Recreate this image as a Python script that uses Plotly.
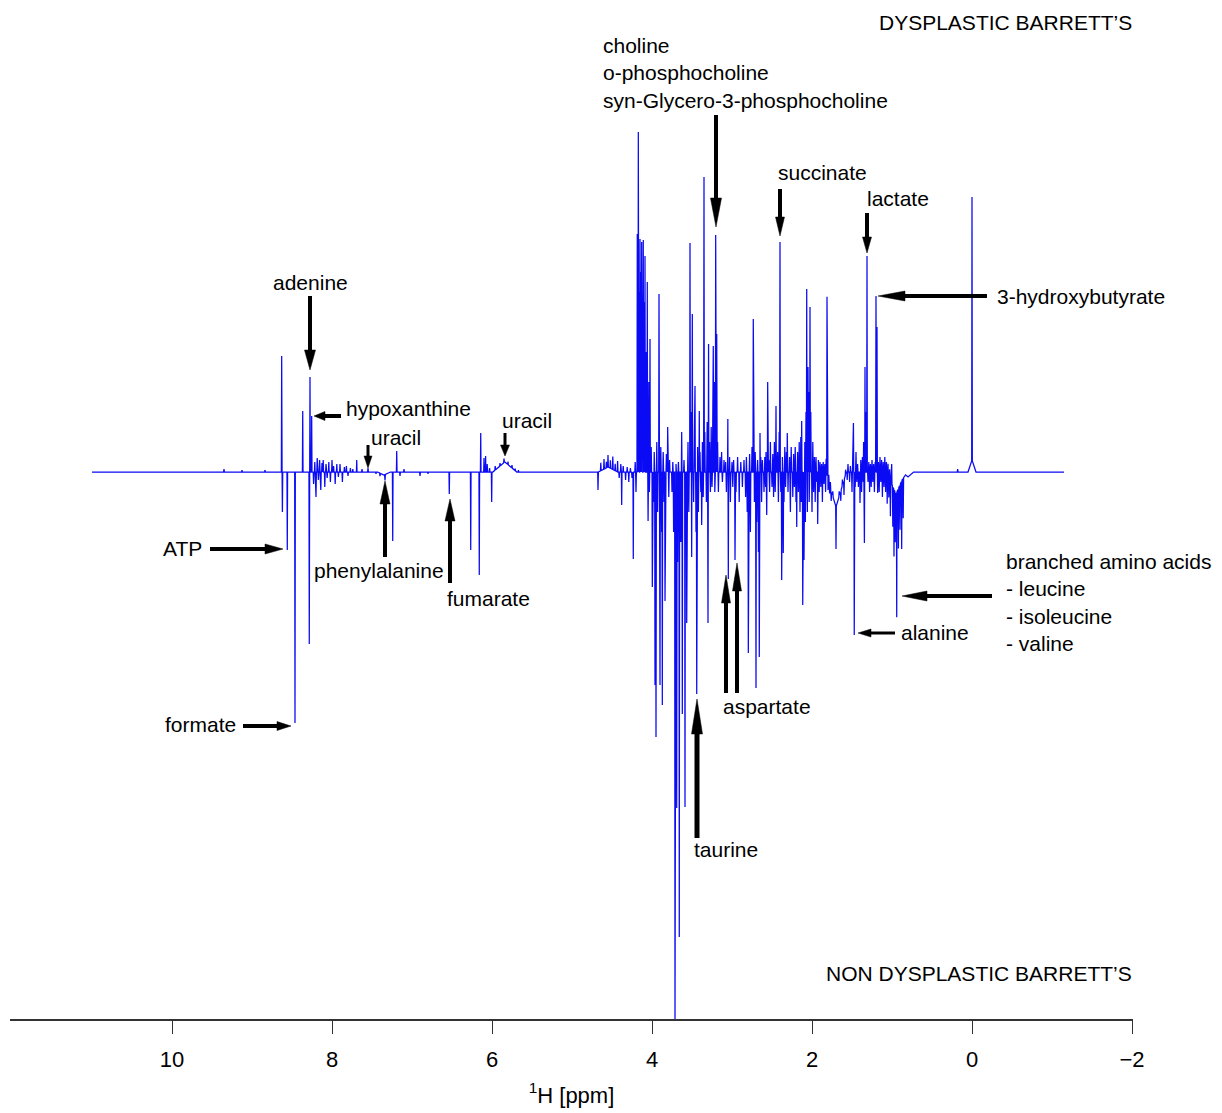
import numpy as np
import plotly.graph_objects as go

# ---------------------------------------------------------------------------
# 1H NMR difference spectrum: dysplastic (up) minus non-dysplastic (down)
# ---------------------------------------------------------------------------

# recorded chemical-shift window (ppm)
spec_start, spec_end = 11.0, -1.15

# resonances raised in dysplastic Barrett's tissue (positive lobe)
pos_ppm = [8.629, 8.366, 8.275, 8.254, 7.691, 7.191, 6.141, 6.10, 6.08,
           4.184, 4.171, 4.16, 4.15, 4.14, 4.129, 4.12, 4.109, 4.10, 4.0875,
           4.07, 4.059, 4.04, 4.025, 3.9125, 3.804, 3.629, 3.525, 3.496,
           3.4625, 3.409, 3.35, 3.293, 3.234, 3.204, 3.191, 3.052, 2.734,
           2.65, 2.554, 2.45, 2.40, 2.309, 2.129, 2.066, 2.05, 2.025, 1.8125,
           1.482, 1.3375, 1.325, 1.3125, 1.20, 1.1875, 1.004, 0.0]
pos_int = [116, 61, 95, 56, 12, 21, 39, 14, 16,
           238, 340, 180, 233, 200, 230, 150, 232, 170, 216,
           120, 190, 90, 133, 178, 45, 40, 229, 158,
           86, 61, 295, 128, 126, 237, 138, 53, 153,
           39, 90, 66, 230, 39, 51, 183, 105, 165, 180,
           49, 105, 60, 216, 176, 145, 20, 263]

# resonances raised in non-dysplastic Barrett's tissue (negative lobe)
neg_ppm = [8.62, 8.559, 8.4625, 8.284, 7.241, 6.534, 6.266, 6.159, 6.004,
           4.675, 4.379, 4.234, 4.049, 3.996, 3.9625, 3.95, 3.90, 3.871,
           3.8375, 3.7125, 3.691, 3.659, 3.621, 3.5875, 3.566, 3.504, 3.441,
           3.379, 3.300, 3.046, 2.9625, 2.796, 2.70, 2.659, 2.566, 2.379,
           2.359, 2.191, 2.116, 2.10, 1.929, 1.70, 1.472, 1.40, 1.345, 1.179,
           0.975, 0.941, 0.879]
neg_int = [-40, -78, -251, -172, -69, -22, -78, -103, -30,
           -18, -33, -87, -49, -115, -213, -265, -213, -233,
           -129, -556, -336, -465, -242, -335, -151, -85, -222,
           -53, -151, -107, -88, -181, -216, -185, -43, -108,
           -81, -55, -133, -88, -52, -42, -163, -31, -71, -21,
           -67, -125, -68]

# low-level signals and residual baseline structure
minor_ppm = [9.35, 9.125, 8.8375,
             8.23, 8.215, 8.20, 8.185, 8.17, 8.155, 8.14, 8.125, 8.11, 8.09,
             8.075, 8.06, 8.04, 8.02, 8.00, 7.98, 7.96, 7.94, 7.92, 7.90, 7.87,
             7.845, 7.82, 7.80, 7.77, 7.74,
             7.625, 7.55, 7.45, 7.40, 7.3375, 7.15, 7.10, 6.90, 6.80, 6.06,
             6.03, 5.96, 5.90, 5.85, 5.80, 5.75, 5.71, 5.67,
             4.64, 4.60, 4.57, 4.55, 4.52, 4.49, 4.46, 4.43, 4.41, 4.39, 4.36,
             4.33, 4.31, 4.29, 4.27, 4.25, 4.21, 4.20,
             4.033, 4.01, 3.98, 3.972, 3.94, 3.93, 3.89, 3.88, 3.86, 3.85, 3.82,
             3.79, 3.78, 3.75, 3.74, 3.73, 3.70, 3.68, 3.67, 3.64, 3.60, 3.578,
             3.55, 3.54, 3.515, 3.48, 3.47, 3.45, 3.43, 3.42, 3.40, 3.39, 3.37,
             3.36, 3.34, 3.32, 3.31, 3.28, 3.27, 3.26, 3.25, 3.24, 3.22, 3.215,
             3.18, 3.17, 3.15, 3.13, 3.12, 3.10, 3.08, 3.07, 3.03, 3.02, 3.00,
             2.99, 2.98, 2.95, 2.93, 2.91, 2.89, 2.87, 2.85, 2.83, 2.82, 2.81,
             2.78, 2.77, 2.75, 2.72, 2.71, 2.69, 2.68, 2.67, 2.64, 2.63, 2.62,
             2.60, 2.59, 2.58, 2.575, 2.54, 2.53, 2.52, 2.50, 2.49, 2.48, 2.47,
             2.46, 2.43, 2.42, 2.41, 2.39, 2.37, 2.35, 2.34, 2.33, 2.32, 2.30,
             2.28, 2.27, 2.26, 2.24, 2.23, 2.22, 2.21, 2.20, 2.18, 2.17, 2.16,
             2.15, 2.14, 2.135, 2.09, 2.083, 2.075, 2.058, 2.04, 2.035, 2.015,
             2.00, 1.99, 1.98, 1.97, 1.96, 1.95, 1.94, 1.92, 1.91, 1.90, 1.89,
             1.88, 1.87, 1.86, 1.85, 1.84, 1.83, 1.823, 1.80, 1.79, 1.78, 1.77,
             1.76, 1.74, 1.66, 1.64, 1.62, 1.60, 1.58, 1.56, 1.55, 1.53, 1.52,
             1.50, 1.46, 1.45, 1.44, 1.43, 1.42, 1.39, 1.38, 1.37, 1.36, 1.355,
             1.30, 1.29, 1.28, 1.27, 1.26, 1.25, 1.24, 1.23, 1.22, 1.21, 1.17,
             1.16, 1.15, 1.14, 1.13, 1.12, 1.11, 1.10, 1.09, 1.08, 1.07, 1.06,
             1.05, 1.04, 1.03, 1.02, 1.01, 0.99, 0.96, 0.92, 0.90, 0.86, 0.179]
minor_int = [3, 2, 2,
             -12, 10, -25, 14, -8, 12, -18, 9, 12, -15,
             8, -6, 10, -10, 12, 6, -12, 8, -5, 8, -10,
             5, 6, -4, 4, 3,
             3, 4, -2, -3, -6, -4, 3, -4, -2, 8,
             4, 4, 3, 4, 3, 3, 2, 2,
             8, 10, 6, 12, 8, 13, 7, 11, -6, 8, 6,
             -8, 5, -10, 4, -6, 10, -20,
             -20, 25, -30, 20, 30, -40, 25, -60, 20, -30, 18,
             -25, 12, -20, 10, -60, 8, -90, 10, -70, 12, -60,
             30, -40, 60, -30, 40, -60, 25, -40, 20, -20, 30,
             -25, 40, -30, 50, 30, -20, 45, -15, 60, 90, -20,
             30, -20, 15, 20, -10, 12, 10, -20, 15, -30, 10,
             -15, 12, -20, 15, -30, 10, -15, 12, -25, 15, -40,
             18, -60, 25, -30, 20, -50, 12, -80, 15, -30, 12,
             -20, 15, -15, 20, 12, -20, 30, -15, 18, -25, 30,
             -20, 20, -30, 40, -20, 15, -30, 25, -15, 20, -20,
             15, -40, 25, -25, 18, -15, 25, -30, 20, -20, 30,
             -40, 35, -30, 30, -50, 60, -40, 80, -30, 60,
             -40, 30, -20, 15, -30, 15, -10, 12, -20, 10, -15,
             8, -30, 10, -12, 8, -20, 15, -10, 8, -8, 6,
             -10, 5, 5, -10, 6, -15, 5, -8, 8, -10, 6,
             -20, -15, 20, -10, 8, -15, 12, -20, 15, -10, 30,
             -10, 10, -20, 8, -15, 12, -10, 8, -20, 10, 10,
             -20, 15, -10, 12, -25, 10, -15, 15, -20, 10, -30,
             12, -20, 10, -35, 8, -40, -50, -60, -45, -40, 3]

# broad components (line-width given as half width in ppm)
broad_ppm = [5.84, 7.35, 4.55, 1.70, 0.95, 0.80, 0.0]
broad_int = [10, -3, 5, -35, -22, -5, 12]
broad_hw = [0.15, 0.08, 0.12, 0.13, 0.12, 0.07, 0.05]

tick_vals = [10, 8, 6, 4, 2, 0, -2]

# ---------------------------------------------------------------------------
# build the spectrum as a sum of triangular lines on their own break points
# ---------------------------------------------------------------------------
NARROW_HW = 0.004
MINOR_HW = 0.005

centers = np.concatenate([pos_ppm, neg_ppm, minor_ppm, broad_ppm]).astype(float)
heights = np.concatenate([pos_int, neg_int, minor_int, broad_int]).astype(float)
halfw = np.concatenate([np.full(len(pos_ppm) + len(neg_ppm), NARROW_HW),
                        np.full(len(minor_ppm), MINOR_HW),
                        broad_hw]).astype(float)

xs = np.unique(np.concatenate([centers - halfw, centers, centers + halfw,
                               [spec_start, spec_end]]))
ys = np.zeros_like(xs)
for c, h, w in zip(centers, heights, halfw):
    ys += h * np.clip(1.0 - np.abs(xs - c) / w, 0.0, None)
xs, ys = xs[::-1], ys[::-1]

# ---------------------------------------------------------------------------
# figure geometry
# ---------------------------------------------------------------------------
W, H = 1222, 1113
MARGIN = dict(l=10, r=89, t=0, b=94)
X_RANGE = [12.025, -2.0125]
Y_RANGE = [-547, 472]
PX_PER_PPM = (W - MARGIN["l"] - MARGIN["r"]) / (X_RANGE[0] - X_RANGE[1])
PX_PER_UNIT = (H - MARGIN["t"] - MARGIN["b"]) / (Y_RANGE[1] - Y_RANGE[0])

FONT = "Liberation Sans, Arial, Helvetica, sans-serif"
LABEL_SIZE = 21

fig = go.Figure()
fig.add_trace(go.Scatter(x=xs, y=ys, mode="lines",
                         line=dict(color="#0a0af5", width=1.25),
                         hoverinfo="skip", showlegend=False))


def shift(x, y, sx, sy):
    """Move a data point by a screen offset given in pixels."""
    return x - sx / PX_PER_PPM, y - sy / PX_PER_UNIT


DIRS = {"down": (0, 1), "up": (0, -1), "left": (-1, 0), "right": (1, 0)}


def add_arrow(x, y, direction, length, head_len, head_w, shaft_w):
    ux, uy = DIRS[direction]
    nx, ny = -uy, ux
    tail = shift(x, y, -length * ux, -length * uy)
    joint = shift(x, y, -(head_len - 2) * ux, -(head_len - 2) * uy)
    c1 = shift(x, y, -head_len * ux + head_w / 2 * nx, -head_len * uy + head_w / 2 * ny)
    c2 = shift(x, y, -head_len * ux - head_w / 2 * nx, -head_len * uy - head_w / 2 * ny)
    fig.add_shape(type="line", xref="x", yref="y",
                  x0=tail[0], y0=tail[1], x1=joint[0], y1=joint[1],
                  line=dict(color="black", width=shaft_w))
    fig.add_shape(type="path", xref="x", yref="y",
                  path=f"M{x},{y} L{c1[0]},{c1[1]} L{c2[0]},{c2[1]} Z",
                  fillcolor="black", line=dict(color="black", width=0.5))


# arrows: tip (ppm, intensity), direction, total length, head length,
# head width, shaft width (all lengths in pixels)
arrows = [
    (8.275, 102, "down", 74, 20, 11, 4),      # adenine
    (8.225, 56, "left", 27, 11, 9, 4),        # hypoxanthine
    (7.55, 4, "down", 23, 12, 8, 3),          # uracil
    (5.8375, 16, "down", 23, 11, 9, 3),       # uracil
    (7.3375, -9, "up", 76, 23, 10, 4),        # phenylalanine
    (6.525, -27, "up", 84, 22, 10, 4),        # fumarate
    (8.6125, -77, "right", 73, 18, 10, 4),    # ATP
    (8.5125, -254, "right", 48, 14, 9, 4),    # formate
    (3.2, 245, "down", 112, 29, 11, 4),       # choline group
    (2.4, 236, "down", 47, 19, 9, 4),         # succinate
    (1.3125, 219, "down", 40, 16, 9, 4),      # lactate
    (1.175, 176, "left", 109, 27, 10, 4),     # 3-hydroxybutyrate
    (3.4375, -227, "up", 139, 35, 11, 5),     # taurine
    (3.075, -103, "up", 118, 28, 9, 4),       # aspartate
    (2.9375, -91, "up", 130, 28, 9, 4),       # aspartate
    (1.425, -161, "left", 37, 13, 8, 3),      # alanine
    (0.875, -124, "left", 90, 25, 10, 4),     # branched-chain amino acids
]
for a in arrows:
    add_arrow(*a)

# labels: text, ppm, intensity, horizontal anchor
labels = [
    ("DYSPLASTIC BARRETT\u2019S", -2.0125, 450, "right"),
    ("NON DYSPLASTIC BARRETT\u2019S", -2.0125, -501, "right"),
    ("adenine", 8.275, 190, "center"),
    ("hypoxanthine", 7.8375, 64, "left"),
    ("uracil", 7.525, 35, "left"),
    ("uracil", 5.8875, 52, "left"),
    ("phenylalanine", 7.4125, -98, "center"),
    ("fumarate", 6.05, -126, "center"),
    ("ATP", 9.6125, -76, "right"),
    ("formate", 9.1875, -252, "right"),
    ("choline<br>o-phosphocholine<br>syn-Glycero-3-phosphocholine", 4.625, 399, "left"),
    ("succinate", 2.4375, 300, "left"),
    ("lactate", 1.325, 274, "left"),
    ("3-hydroxybutyrate", -0.3, 176, "left"),
    ("taurine", 3.4875, -377, "left"),
    ("aspartate", 3.125, -234, "left"),
    ("alanine", 0.9, -160, "left"),
    ("branched amino acids<br>- leucine<br>- isoleucine<br>- valine", -0.4125, -130.5, "left"),
]
for text, x, y, anchor in labels:
    fig.add_annotation(x=x, y=y, xref="x", yref="y", text=text,
                       showarrow=False, xanchor=anchor, yanchor="middle",
                       align="left", borderpad=0,
                       font=dict(family=FONT, size=LABEL_SIZE, color="black"))

fig.update_layout(
    width=W, height=H, margin=MARGIN,
    paper_bgcolor="white", plot_bgcolor="white",
    font=dict(family=FONT, color="black"),
    xaxis=dict(range=X_RANGE, tickvals=tick_vals, ticks="outside", ticklen=13,
               tickwidth=1.2, tickcolor="#333333", showline=True,
               linecolor="#333333", linewidth=1.6, showgrid=False,
               zeroline=False, automargin=False, ticklabelstandoff=7,
               tickfont=dict(family=FONT, size=22, color="black"),
               title=dict(text="<sup>1</sup>H [ppm]", standoff=16,
                          font=dict(family=FONT, size=22, color="black"))),
    yaxis=dict(range=Y_RANGE, visible=False, showgrid=False, zeroline=False),
)

fig.write_html("out.html")
